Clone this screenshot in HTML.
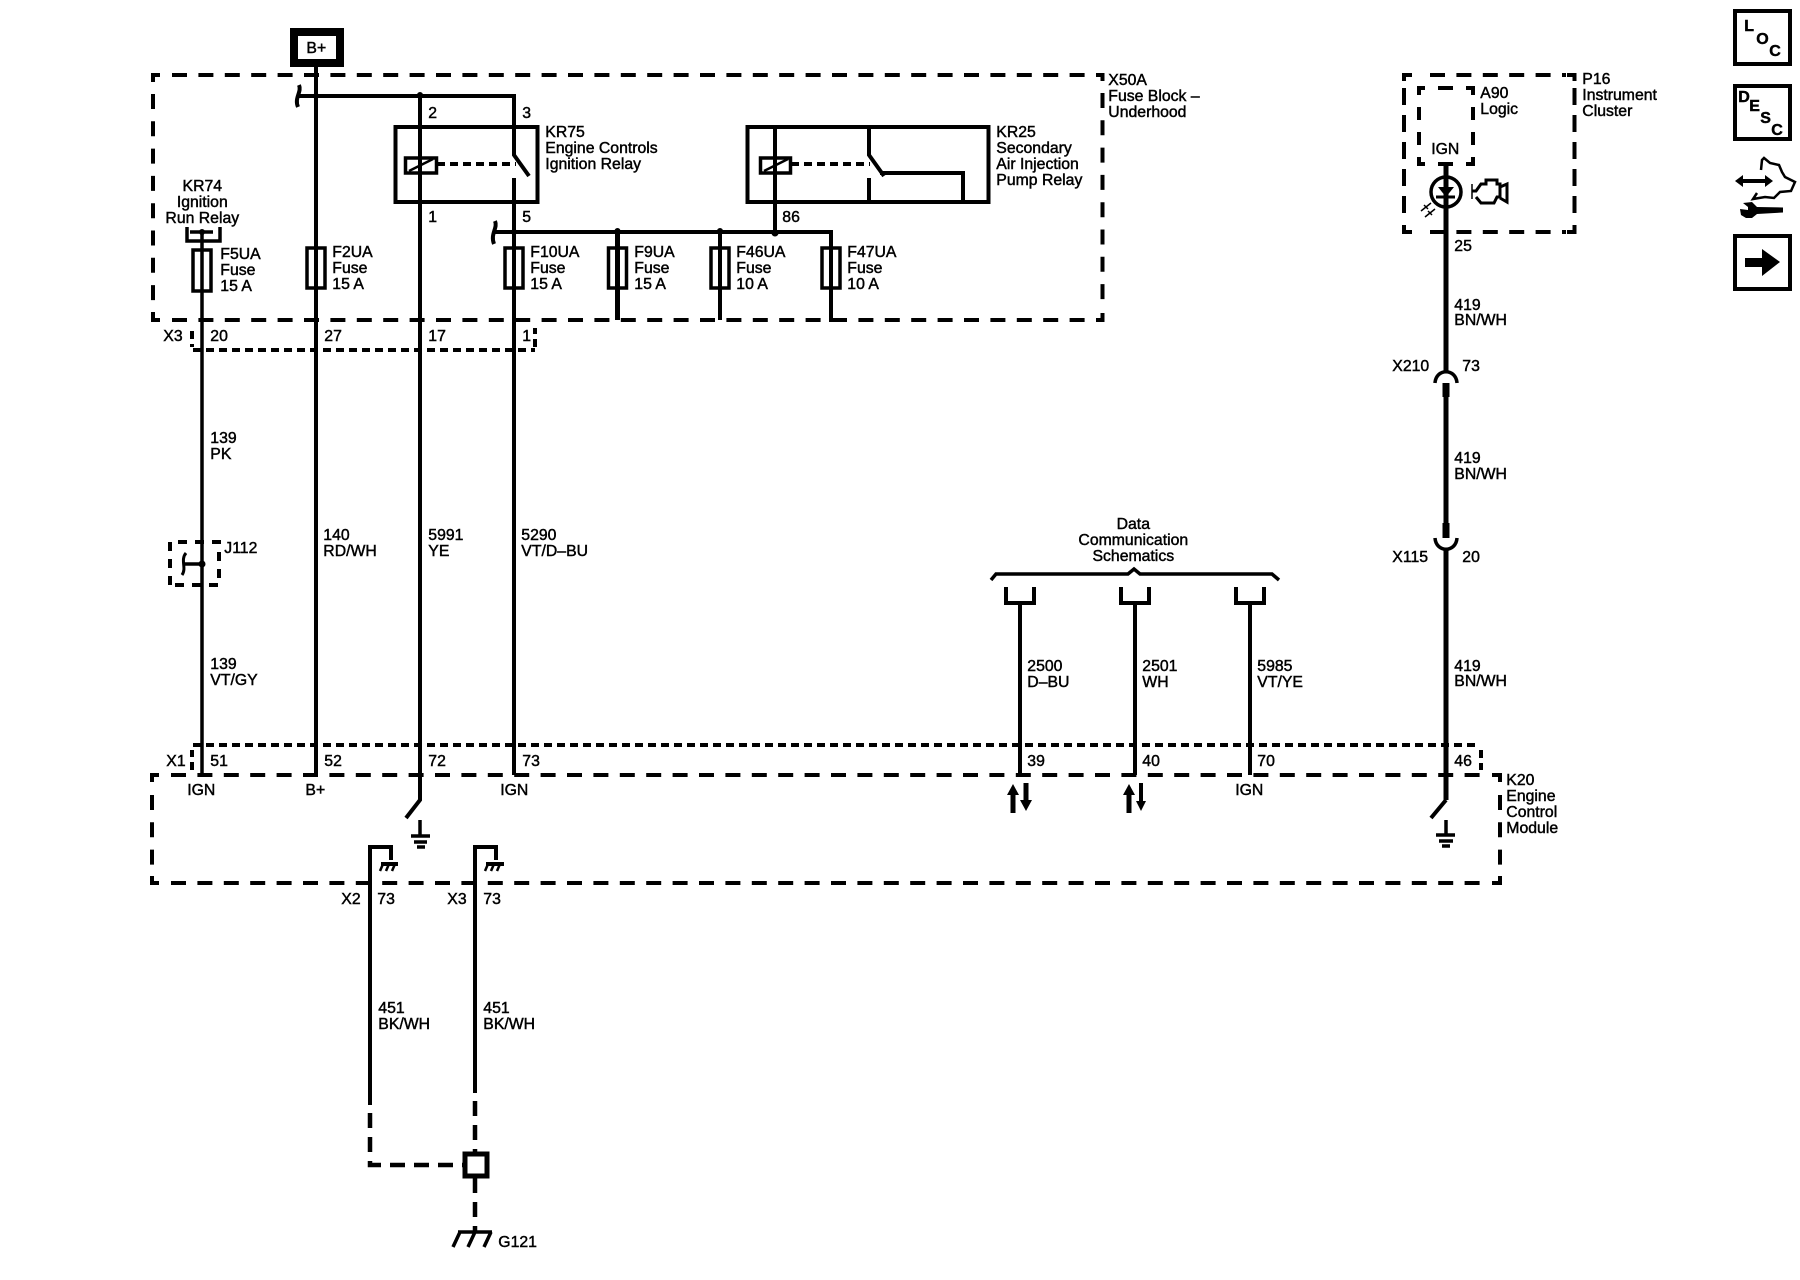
<!DOCTYPE html>
<html><head><meta charset="utf-8"><style>
html,body{margin:0;padding:0;background:#fff}
svg{display:block}
text{font-family:"Liberation Sans",sans-serif;font-size:15.8px;fill:#000;stroke:#000;stroke-width:.45px}
.m{text-anchor:middle}
.b{font-weight:bold;font-size:16px}
</style></head><body>
<svg width="1800" height="1280" viewBox="0 0 1800 1280" xmlns="http://www.w3.org/2000/svg">
<!-- X50A -->
<g fill="none" stroke="#000" stroke-width="4" stroke-dasharray="15 11.4">
<path d="M172 75H1096M172 320H1096"/>
<path d="M1430 75H1566M1430 232H1566"/>
<path d="M171 775H1491M171 883H1491"/>
</g>
<g fill="none" stroke="#000" stroke-width="4" stroke-dasharray="15 12.3">
<path d="M153 94V305M1102.500 93V305"/>
<path d="M1404 88V214M1574.500 88V214" stroke-dasharray="17 10"/>
<path d="M152 795V865M1500 795V865"/>
</g>
<g fill="none" stroke="#000" stroke-width="4">
<!-- corners -->
<path d="M153 82V75H160M1096 75H1102.500V81M153 312V320H160M1096 320H1102.500V313"/>
<path d="M1404 81V75H1412M1567 75H1574.500V81M1404 225V232H1412M1567 232H1574.500V225"/>
<path d="M152 782V775H159M1492 775H1500V782M152 876V883H159M1492 883H1500V876"/>
<path d="M1419 95V88H1425M1466 88H1473V95M1419 157V164H1425M1466 164H1473V157"/>
<path d="M1438 88H1453M1438 164H1453M1419 107V120M1419 132V145M1473 107V120M1473 132V145"/>
</g>
<g fill="none" stroke="#000" stroke-width="4" stroke-dasharray="8 5">
<path d="M192 331V347M193 350H535M535 347V328"/>
<path d="M192 770V750M193 745H1480M1481 750V770"/>
<path d="M170 585V542H219V585H170" stroke-dasharray="9 8"/>
<path d="M437 164H516M791 164H870"/>
</g>
<g fill="none" stroke="#000" stroke-width="4.5" stroke-dasharray="15 9">
<path d="M370 1113V1165H463"/>
<path d="M475 1101V1152M475 1178V1232"/>
</g>
<g fill="none" stroke="#000" stroke-width="4">
<!-- B+ -->
<rect x="294" y="32" width="46" height="31" stroke-width="8"/>
<!-- main wires -->
<path d="M202 232V775" stroke-width="3.500"/>
<path d="M316 67V775"/>
<path d="M420 95V800L406 818"/>
<path d="M514 178V775"/>
<path d="M298 96H514V155L529 176"/>
<path d="M299 85C302 92 294 98 298 107" stroke-width="4"/>
<path d="M494 232H831V320H840"/>
<path d="M495 221C498 228 490 234 494 244" stroke-width="4"/>
<path d="M617.500 232V320" stroke-width="5"/>
<path d="M720 232V320"/>
<path d="M775 127V232"/>
<!-- relays -->
<rect x="395.500" y="127" width="142" height="75"/>
<rect x="747.500" y="127" width="241" height="75"/>
<rect x="405.500" y="158" width="31" height="15" stroke-width="3.500"/>
<rect x="760.500" y="158" width="30" height="15" stroke-width="3.500"/>
<path d="M409 171L433 159M764 171L788 159" stroke-width="2.500"/>
<path d="M869 127V155L884 176M880 173H963V202M869 178V202"/>
<!-- fuses -->
<g stroke-width="3.500">
<rect x="193" y="250" width="18" height="41"/>
<rect x="307" y="248" width="18" height="40"/>
<rect x="505" y="248" width="18" height="40"/>
<rect x="608.500" y="248" width="18" height="40"/>
<rect x="711" y="248" width="18" height="40"/>
<rect x="822" y="248" width="18" height="40"/>
</g>
<!-- KR74 -->
<path d="M187 227V241H220V227" stroke-width="3.500"/>
<path d="M190 232H213" stroke-width="3.500"/>
<!-- J112 -->
<path d="M183 564H202" stroke-width="3.500"/>
<path d="M186 553C180 560 187 568 182 575" stroke-width="3"/>
<!-- K20 grounds -->
<path d="M420 820V836M1446 820V836" stroke-width="3.500"/>
<path d="M411 836H430M414 842H427M417 847H425M1436 835H1455M1439 841H1453M1442 846H1450" stroke-width="3.500"/>
<path d="M1446 800L1431 818" stroke-width="4"/>
<!-- chassis wires -->
<path d="M370 1105V847H391V860"/>
<path d="M475 1093V847H496V860"/>
<path d="M381 864H398M486 864H504" stroke-width="4"/>
<path d="M383 864L380 871M389 864L386 871M395 864L392 871M488 864L485 871M494 864L491 871M500 864L497 871" stroke-width="2.500"/>
<!-- splice -->
<rect x="465" y="1154" width="22" height="22" stroke-width="5"/>
<path d="M458 1232H492M460 1232L453 1247M475 1232L468 1247M491 1232L484 1247" stroke-width="3.500"/>
<!-- data comm -->
<path d="M991 580L996 574H1128L1134 569L1140 574H1272L1279 580" stroke-width="3.500"/>
<path d="M1006 587V603H1034V587M1121 587V603H1149V587M1236 587V603H1264V587"/>
<path d="M1020 603V775M1135 603V775M1250 603V775"/>
<path d="M1013 790V813M1026 783V805" stroke-width="5"/>
<path d="M1129 790V813" stroke-width="5"/><path d="M1141 783V805"/>
<!-- P16 wire -->
<path d="M1446 164V372M1446 383V538M1446 549V800" stroke-width="5"/>
<path d="M1446 383V397M1446 523V538" stroke-width="7"/>
<path d="M1435 383C1436 368 1456 368 1457 383M1435 538C1436 553 1456 553 1457 538" stroke-width="3.500"/>
<circle cx="1446" cy="192" r="15" stroke-width="3.500"/>
<path d="M1436 197H1455" stroke-width="3"/>
<path d="M1421 211L1431 203M1425 217L1435 209M1424 205L1428 209M1428 211L1432 215" stroke-width="1.500"/>
<!-- engine -->
<path d="M1472 184V199" stroke-width="1.500"/>
<path d="M1472 191H1476L1481 184H1486V180H1497V184H1500V197H1497L1494 203H1481L1476 197" stroke-width="3"/>
<path d="M1500 187L1507 184V202L1500 198" stroke-width="3"/>
<!-- icon boxes -->
<rect x="1735" y="11" width="55" height="53"/>
<rect x="1735" y="86" width="55" height="53"/>
<rect x="1735" y="236" width="55" height="53"/>
<path d="M1761 170L1762 160L1764 158L1770 163L1779 165L1782 172L1785 177L1795 182L1791 191L1780 192L1774 198L1765 197L1753 199L1757 193" stroke-width="2.500"/>
<path d="M1741 181H1766" stroke-width="4"/>
</g>
<g fill="#000">
<circle cx="316" cy="96" r="3"/><circle cx="420" cy="95" r="3"/><circle cx="514" cy="232" r="3"/>
<circle cx="617.500" cy="231" r="3"/><circle cx="720" cy="231" r="3"/><circle cx="775" cy="233" r="3.500"/>
<circle cx="202" cy="232" r="3"/><circle cx="202" cy="564" r="3.500"/>
<path d="M1013 784L1007 795H1019ZM1026 811L1020 800H1032ZM1129 784L1123 795H1135ZM1141 811L1136 801H1146Z"/>
<path d="M1438 187H1454L1446 197Z"/>
<path d="M1735 181L1743 175V187ZM1773 181L1765 175V187Z"/>
<path d="M1745 258H1762V249L1780 262L1762 276V267H1745Z"/>
<path d="M1752 202L1743 203L1748 207L1748 210L1740 209L1741 215L1746 218L1752 218L1757 214L1783 212.500V207.500L1757 207Z"/>
</g>
<g transform="translate(-0.7,0)">
<text x="317" y="53" class="m">B+</text>
<text x="429" y="118">2</text><text x="523" y="118">3</text><text x="429" y="222">1</text><text x="523" y="222">5</text>
<text x="546" y="137">KR75</text><text x="546" y="153">Engine Controls</text><text x="546" y="169">Ignition Relay</text>
<text x="203" y="191" class="m">KR74</text><text x="203" y="207" class="m">Ignition</text><text x="203" y="223" class="m">Run Relay</text>
<text x="221" y="259">F5UA</text><text x="221" y="275">Fuse</text><text x="221" y="291">15 A</text>
<text x="333" y="257">F2UA</text><text x="333" y="273">Fuse</text><text x="333" y="289">15 A</text>
<text x="531" y="257">F10UA</text><text x="531" y="273">Fuse</text><text x="531" y="289">15 A</text>
<text x="635" y="257">F9UA</text><text x="635" y="273">Fuse</text><text x="635" y="289">15 A</text>
<text x="737" y="257">F46UA</text><text x="737" y="273">Fuse</text><text x="737" y="289">10 A</text>
<text x="848" y="257">F47UA</text><text x="848" y="273">Fuse</text><text x="848" y="289">10 A</text>
<text x="783" y="222">86</text>
<text x="997" y="137">KR25</text><text x="997" y="153">Secondary</text><text x="997" y="169">Air Injection</text><text x="997" y="185">Pump Relay</text>
<text x="1109" y="85">X50A</text><text x="1109" y="101">Fuse Block –</text><text x="1109" y="117">Underhood</text>
<text x="164" y="341">X3</text><text x="211" y="341">20</text><text x="325" y="341">27</text><text x="429" y="341">17</text><text x="523" y="341">1</text>
<text x="211" y="443">139</text><text x="211" y="459">PK</text>
<text x="225" y="553">J112</text>
<text x="324" y="540">140</text><text x="324" y="556">RD/WH</text>
<text x="429" y="540">5991</text><text x="429" y="556">YE</text>
<text x="522" y="540">5290</text><text x="522" y="556">VT/D–BU</text>
<text x="211" y="669">139</text><text x="211" y="685">VT/GY</text>
<text x="167" y="766">X1</text><text x="211" y="766">51</text><text x="325" y="766">52</text><text x="429" y="766">72</text><text x="523" y="766">73</text>
<text x="202" y="795" class="m">IGN</text><text x="316" y="795" class="m">B+</text><text x="515" y="795" class="m">IGN</text>
<text x="342" y="904">X2</text><text x="378" y="904">73</text><text x="448" y="904">X3</text><text x="484" y="904">73</text>
<text x="379" y="1013">451</text><text x="379" y="1029">BK/WH</text>
<text x="484" y="1013">451</text><text x="484" y="1029">BK/WH</text>
<text x="499" y="1247">G121</text>
<text x="1134" y="529" class="m">Data</text><text x="1134" y="545" class="m">Communication</text><text x="1134" y="561" class="m">Schematics</text>
<text x="1028" y="671">2500</text><text x="1028" y="687">D–BU</text>
<text x="1143" y="671">2501</text><text x="1143" y="687">WH</text>
<text x="1258" y="671">5985</text><text x="1258" y="687">VT/YE</text>
<text x="1028" y="766">39</text><text x="1143" y="766">40</text><text x="1258" y="766">70</text>
<text x="1250" y="795" class="m">IGN</text>
<text x="1455" y="766">46</text>
<text x="1507" y="785">K20</text><text x="1507" y="801">Engine</text><text x="1507" y="817">Control</text><text x="1507" y="833">Module</text>
<text x="1583" y="84">P16</text><text x="1583" y="100">Instrument</text><text x="1583" y="116">Cluster</text>
<text x="1481" y="98">A90</text><text x="1481" y="114">Logic</text>
<text x="1446" y="154" class="m">IGN</text>
<text x="1455" y="251">25</text>
<text x="1455" y="310">419</text><text x="1455" y="325">BN/WH</text>
<text x="1393" y="371">X210</text><text x="1463" y="371">73</text>
<text x="1455" y="463">419</text><text x="1455" y="479">BN/WH</text>
<text x="1393" y="562">X115</text><text x="1463" y="562">20</text>
<text x="1455" y="671">419</text><text x="1455" y="686">BN/WH</text>
<text x="1745" y="31" class="b">L</text><text x="1757" y="44" class="b">O</text><text x="1770" y="56" class="b">C</text>
<text x="1739" y="102" class="b">D</text><text x="1750" y="111" class="b">E</text><text x="1761" y="123" class="b">S</text><text x="1772" y="135" class="b">C</text>
</g>
</svg>
</body></html>
